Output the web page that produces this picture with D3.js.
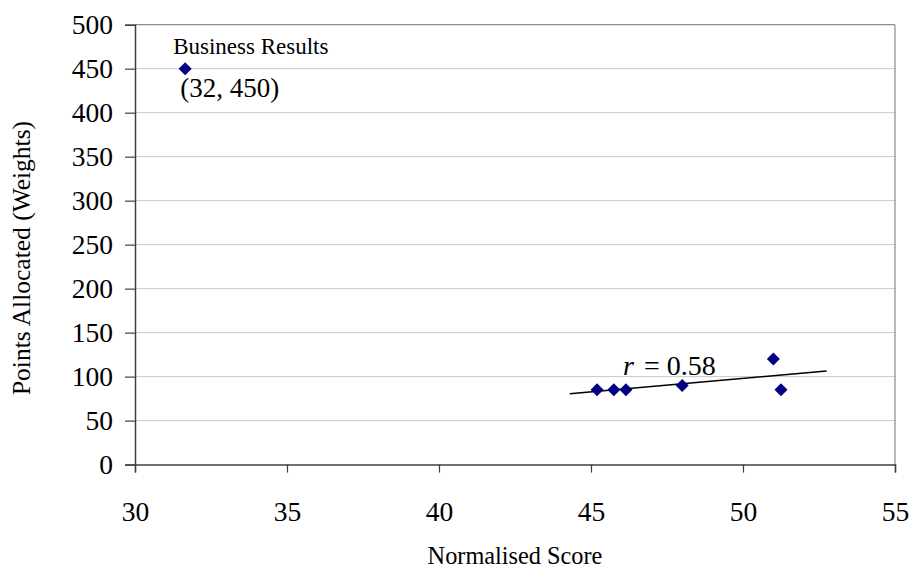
<!DOCTYPE html>
<html>
<head>
<meta charset="utf-8">
<script src="https://cdn.jsdelivr.net/npm/d3@7"></script>
<style>
  html, body { margin: 0; padding: 0; background: #fff; }
  svg { display: block; }
  text { font-family: "Liberation Serif", "Times New Roman", serif; fill: #000; }
</style>
</head>
<body>
<svg id="chart" width="912" height="568"></svg>
<script>
// ---- data ----
const labels = ["Business Results", "", "", "", "", "", ""];
const xValues = [31.65, 45.2, 45.75, 46.15, 48.0, 51.0, 51.25];
const yValues = [450, 85, 85, 85, 90, 120, 85];
const xTicks = [30, 35, 40, 45, 50, 55];
const yTicks = [0, 50, 100, 150, 200, 250, 300, 350, 400, 450, 500];
const trendX = [44.3, 52.75];
const trendY = [80.5, 106.4];
const rLabel = "0.58";
const pointNote = "(32, 450)";

(function () {
const svg = d3.select("#chart");
const pL = 135, pR = 895, pT = 24.7, pB = 464.6;
const x = d3.scaleLinear().domain([30, 55]).range([pL, pR]);
const y = d3.scaleLinear().domain([0, 500]).range([pB, pT]);
const serif = '"Liberation Serif", "Times New Roman", serif';

// gridlines
svg.append("g").selectAll("line").data(yTicks.filter(v => v > 0 && v < 500)).join("line")
  .attr("x1", pL).attr("x2", pR)
  .attr("y1", d => y(d)).attr("y2", d => y(d))
  .attr("stroke", "#c8c8c8").attr("stroke-width", 1);

// top and right border
svg.append("line").attr("x1", pL).attr("x2", pR).attr("y1", y(500)).attr("y2", y(500))
  .attr("stroke", "#8c8c8c").attr("stroke-width", 1.2);
svg.append("line").attr("x1", pR).attr("x2", pR).attr("y1", y(500)).attr("y2", y(0))
  .attr("stroke", "#8c8c8c").attr("stroke-width", 1.2);

// y axis
const yAxis = d3.axisLeft(y).tickValues(yTicks).tickSize(10).tickPadding(12).tickFormat(d3.format("d"));
const gy = svg.append("g").attr("transform", `translate(${pL},0)`).call(yAxis);
gy.attr("font-family", serif);
gy.select(".domain").attr("stroke", "#404040").attr("stroke-width", 1.5);
gy.selectAll(".tick line").attr("stroke", "#404040").attr("stroke-width", 1.2);
gy.selectAll(".tick text").style("font-family", serif).style("font-size", "27.5px").attr("fill", "#000");

// x axis
const xAxis = d3.axisBottom(x).tickValues(xTicks).tickSize(8).tickPadding(29).tickFormat(d3.format("d"));
const gx = svg.append("g").attr("transform", `translate(0,${pB})`).call(xAxis);
gx.attr("font-family", serif);
gx.select(".domain").attr("stroke", "#404040").attr("stroke-width", 1.5);
gx.selectAll(".tick line").attr("stroke", "#404040").attr("stroke-width", 1.2);
gx.selectAll(".tick text").style("font-family", serif).style("font-size", "27.5px").attr("fill", "#000");

// axis titles
svg.append("text").attr("x", (pL + pR) / 2).attr("y", 564).attr("text-anchor", "middle")
  .style("font-size", "24.3px").text("Normalised Score");
svg.append("text").attr("transform", "translate(29.5,258) rotate(-90)").attr("text-anchor", "middle")
  .style("font-size", "25.5px").text("Points Allocated (Weights)");

// trend line
svg.append("line")
  .attr("x1", x(trendX[0])).attr("y1", y(trendY[0]))
  .attr("x2", x(trendX[1])).attr("y2", y(trendY[1]))
  .attr("stroke", "#000").attr("stroke-width", 1.6);

// markers (diamonds)
const pts = xValues.map((v, i) => ({ x: v, y: yValues[i], label: labels[i] }));
const r = 6.5;
svg.append("g").selectAll("path").data(pts).join("path")
  .attr("d", d => {
    const cx = x(d.x), cy = y(d.y);
    return `M${cx},${cy - r}L${cx + r},${cy}L${cx},${cy + r}L${cx - r},${cy}Z`;
  })
  .attr("fill", "#000080");

// annotations
const bp = pts[0];
svg.append("text").attr("x", x(bp.x) - 12).attr("y", y(bp.y) - 15)
  .style("font-size", "23px").text(bp.label);
svg.append("text").attr("x", x(bp.x) - 5).attr("y", y(bp.y) + 28)
  .style("font-size", "27px").text(pointNote);

const rt = svg.append("text").attr("x", 623).attr("y", 375).style("font-size", "28px");
rt.append("tspan").style("font-style", "italic").text("r");
rt.append("tspan").attr("dx", 10).text("= " + rLabel);
})();
</script>
</body>
</html>
